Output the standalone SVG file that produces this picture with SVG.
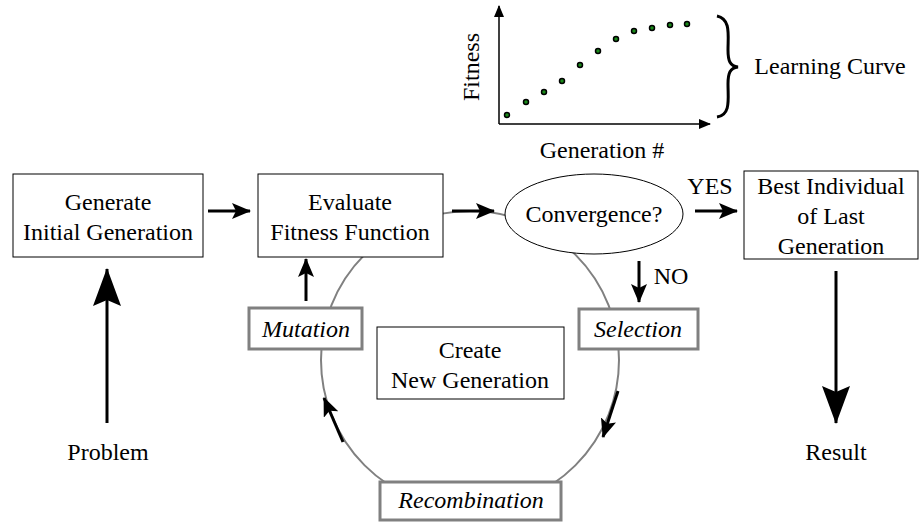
<svg xmlns="http://www.w3.org/2000/svg" width="920" height="522" viewBox="0 0 920 522">
<style>
text{font-family:"Liberation Serif","Times New Roman",serif;font-size:24px;fill:#000;text-anchor:middle}
.it{font-style:italic}
.box{fill:#fff;stroke:#000;stroke-width:1}
.gbox{fill:#fff;stroke:#808080;stroke-width:3}
.arr{stroke:#000;stroke-width:3;fill:none}
.dot{fill:#1a8a1a;stroke:#000;stroke-width:1.5}
</style>
<defs>
<marker id="ah" markerUnits="userSpaceOnUse" markerWidth="19" markerHeight="16" refX="18" refY="8" orient="auto"><path d="M0,0 L19,8 L0,16 L4,8 Z" fill="#000"/></marker>
<marker id="big" markerUnits="userSpaceOnUse" markerWidth="38" markerHeight="28" refX="37" refY="14" orient="auto"><path d="M0,0 L38,14 L0,28 L6,14 Z" fill="#000"/></marker>
<marker id="ax" markerUnits="userSpaceOnUse" markerWidth="12" markerHeight="10" refX="11" refY="5" orient="auto"><path d="M0,0 L12,5 L0,10 Z" fill="#000"/></marker>
</defs>
<rect width="920" height="522" fill="#fff"/>
<g id="chart">
<path d="M499,124 V6" stroke="#000" stroke-width="1.5" fill="none" marker-end="url(#ax)"/>
<path d="M499,124 H710" stroke="#000" stroke-width="1.5" fill="none" marker-end="url(#ax)"/>
<circle class="dot" cx="507" cy="115" r="2.5"/>
<circle class="dot" cx="526" cy="102" r="2.5"/>
<circle class="dot" cx="544" cy="92" r="2.5"/>
<circle class="dot" cx="562" cy="81" r="2.5"/>
<circle class="dot" cx="580" cy="65" r="2.5"/>
<circle class="dot" cx="598" cy="51" r="2.5"/>
<circle class="dot" cx="616" cy="39" r="2.5"/>
<circle class="dot" cx="634" cy="31" r="2.5"/>
<circle class="dot" cx="652" cy="28" r="2.5"/>
<circle class="dot" cx="670" cy="25" r="2.5"/>
<circle class="dot" cx="687" cy="24" r="2.5"/>
<text transform="translate(479,67) rotate(-90)">Fitness</text>
<text x="602" y="158">Generation #</text>
<path d="M717,16 C731,19 728,35 728,50 C728,61 730,66 738,67 C730,68 728,73 728,84 C728,99 731,115 717,117" stroke="#000" stroke-width="3" fill="none"/>
<text x="830" y="74">Learning Curve</text>
</g>
<g id="cycle">
<circle cx="470" cy="360" r="149" fill="none" stroke="#808080" stroke-width="2"/>
</g>
<g id="connectors">
<path class="arr" d="M208,211 H250" marker-end="url(#ah)"/>
<path class="arr" d="M452,211 H494" marker-end="url(#ah)"/>
<path class="arr" d="M695,211 H737" marker-end="url(#ah)"/>
<path class="arr" d="M639,261 V302" marker-end="url(#ah)"/>
<path class="arr" d="M306,301 V259" marker-end="url(#ah)"/>
<path class="arr" d="M618,391 L603,437" marker-end="url(#ah)"/>
<path class="arr" d="M343,442 L324,398" marker-end="url(#ah)"/>
<path class="arr" d="M107,423 V269" marker-end="url(#big)"/>
<path class="arr" d="M836,271 V423" marker-end="url(#big)"/>
</g>
<g id="generate">
<rect class="box" x="13" y="174" width="190" height="83"/>
<text x="108" y="210">Generate</text>
<text x="108" y="240">Initial Generation</text>
</g>
<g id="evaluate">
<rect class="box" x="258" y="174" width="185" height="83"/>
<text x="350" y="210">Evaluate</text>
<text x="350" y="240">Fitness Function</text>
</g>
<g id="convergence">
<ellipse cx="594" cy="214" rx="89" ry="40" fill="#fff" stroke="#000" stroke-width="1"/>
<text x="594" y="222">Convergence?</text>
</g>
<g id="yes"><text x="710" y="194">YES</text></g>
<g id="no"><text x="671" y="284">NO</text></g>
<g id="best">
<rect class="box" x="744" y="171" width="174" height="88"/>
<text x="831" y="194">Best Individual</text>
<text x="831" y="224">of Last</text>
<text x="831" y="254">Generation</text>
</g>
<g id="mutation">
<rect class="gbox" x="249" y="308" width="113" height="41"/>
<text class="it" x="306" y="337">Mutation</text>
</g>
<g id="selection">
<rect class="gbox" x="579" y="309" width="119" height="40"/>
<text class="it" x="638" y="337">Selection</text>
</g>
<g id="recombination">
<rect class="gbox" x="380" y="482" width="181" height="38"/>
<text class="it" x="471" y="508">Recombination</text>
</g>
<g id="create">
<rect class="box" x="377" y="327" width="187" height="72"/>
<text x="470" y="358">Create</text>
<text x="470" y="388">New Generation</text>
</g>
<g id="problem"><text x="108" y="460">Problem</text></g>
<g id="result"><text x="836" y="460">Result</text></g>
</svg>
